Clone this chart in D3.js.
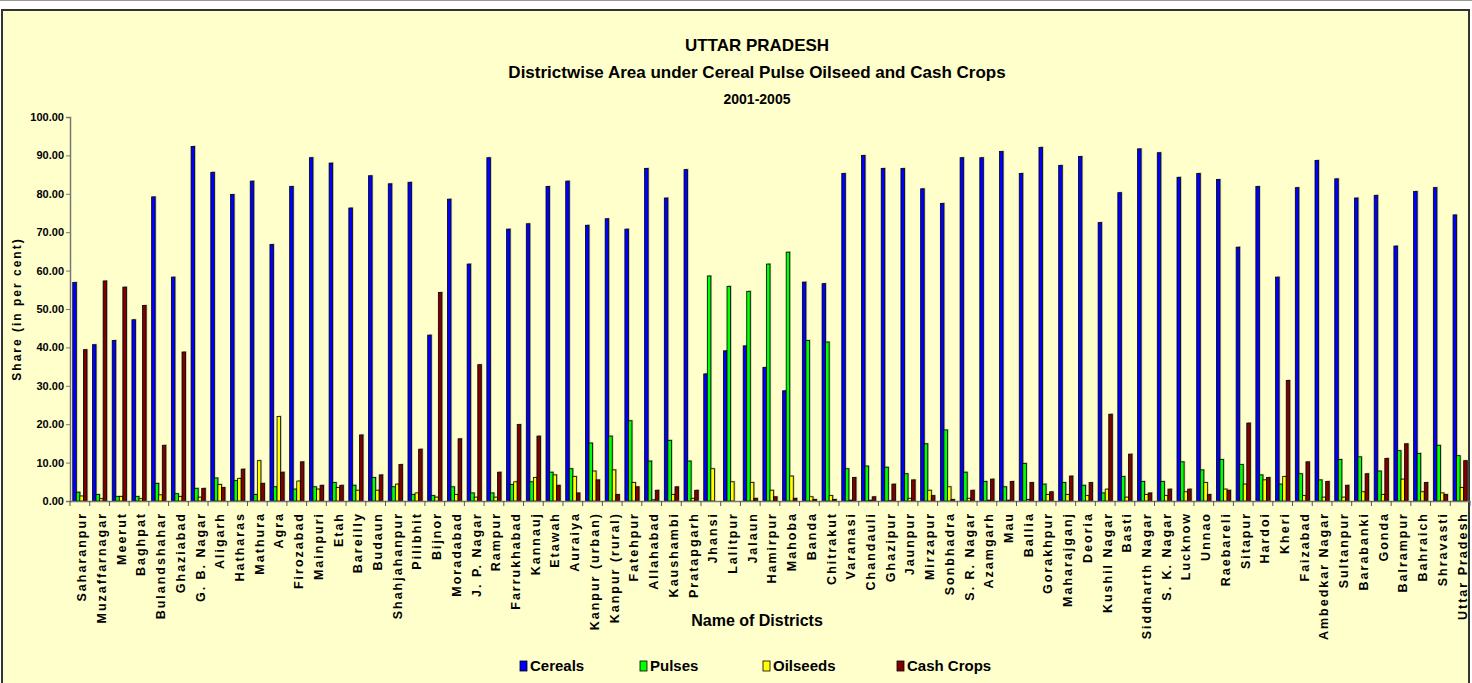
<!DOCTYPE html>
<html lang="en">
<head>
<meta charset="utf-8">
<title>Uttar Pradesh - Districtwise Area under Crops</title>
<script src="https://cdnjs.cloudflare.com/ajax/libs/d3/7.8.5/d3.min.js"></script>
<style>
  body { margin: 0; background: #fff; }
  svg text { font-family: "Liberation Sans", Arial, sans-serif; font-weight: bold; fill: #000; }
</style>
</head>
<body>
<div id="plot"></div>
<script>
// categories
var districts = ["Saharanpur","Muzaffarnagar","Meerut","Baghpat","Bulandshahar","Ghaziabad","G. B. Nagar","Aligarh","Hatharas","Mathura",
  "Agra","Firozabad","Mainpuri","Etah","Bareilly","Budaun","Shahjahanpur","Pilibhit","Bijnor","Moradabad",
  "J. P. Nagar","Rampur","Farrukhabad","Kannauj","Etawah","Auraiya","Kanpur (urban)","Kanpur (rural)","Fatehpur","Allahabad",
  "Kaushambi","Pratapgarh","Jhansi","Lalitpur","Jalaun","Hamirpur","Mahoba","Banda","Chitrakut","Varanasi",
  "Chandauli","Ghazipur","Jaunpur","Mirzapur","Sonbhadra","S. R. Nagar","Azamgarh","Mau","Ballia","Gorakhpur",
  "Maharajganj","Deoria","Kushil Nagar","Basti","Siddharth Nagar","S. K. Nagar","Lucknow","Unnao","Raebareli","Sitapur",
  "Hardoi","Kheri","Faizabad","Ambedkar Nagar","Sultanpur","Barabanki","Gonda","Balrampur","Bahraich","Shravasti","Uttar Pradesh"];

// series values (per cent)
var cereals = [56.9,40.7,41.8,47.2,79.2,58.3,92.3,85.6,79.8,83.3,
  66.8,81.9,89.4,88.0,76.3,84.7,82.6,83.0,43.2,78.6,
  61.7,89.4,70.8,72.2,81.9,83.3,71.8,73.5,70.8,86.6,
  78.9,86.3,33.1,39.1,40.4,34.8,28.7,57.0,56.6,85.3,
  90.0,86.6,86.6,81.3,77.5,89.4,89.4,91.0,85.3,92.1,
  87.4,89.7,72.5,80.3,91.7,90.7,84.3,85.3,83.7,66.1,
  81.9,58.3,81.6,88.7,83.9,78.9,79.6,66.4,80.6,81.6,74.5];
var pulses = [2.3,1.7,1.2,1.2,4.6,1.9,3.3,6.0,5.3,1.7,
  3.7,3.1,3.7,4.8,4.1,6.1,3.7,1.7,1.4,3.7,
  2.1,2.1,4.3,5.0,7.5,8.4,15.1,16.9,20.9,10.4,
  15.8,10.4,58.6,55.9,54.6,61.7,64.8,41.8,41.4,8.4,
  9.1,8.8,7.1,14.9,18.5,7.5,5.1,3.7,9.8,4.4,
  4.8,4.1,2.1,6.4,5.1,5.1,10.2,8.1,10.8,9.5,
  6.8,4.4,7.1,5.5,10.8,11.5,7.8,13.1,12.4,14.5,11.8];
var oilseeds = [1.3,0.6,1.2,0.6,1.6,1.2,1.0,4.3,5.9,10.5,
  22.0,5.2,3.1,3.5,2.8,2.8,4.4,2.1,1.0,1.7,
  1.0,1.0,5.0,6.1,6.8,6.4,7.8,8.1,4.8,0.3,
  1.7,0.7,8.4,5.0,4.8,2.8,6.5,1.1,1.4,0.2,
  0.2,0.1,0.7,2.8,3.7,0.7,0.2,0.2,0.4,1.7,
  1.7,1.4,3.1,1.0,1.7,1.4,2.4,4.8,3.1,4.4,
  5.5,6.4,1.4,1.0,1.0,2.4,1.7,5.7,2.4,2.1,3.5];
var cashCrops = [39.4,57.3,55.7,50.9,14.5,38.8,3.3,3.5,8.3,4.6,
  7.5,10.2,4.1,4.1,17.2,6.8,9.5,13.5,54.3,16.2,
  35.5,7.5,19.9,16.9,4.1,2.1,5.5,1.7,3.7,2.8,
  3.7,2.8,0.0,0.0,0.7,1.1,0.7,0.4,0.4,6.1,
  1.1,4.4,5.5,1.4,0.4,2.8,5.7,5.1,4.8,2.4,
  6.5,4.8,22.6,12.2,2.1,3.1,3.1,1.7,2.8,20.3,
  6.1,31.4,10.2,5.1,4.1,7.1,11.1,14.9,4.8,1.7,10.5];

var seriesNames = ["Cereals","Pulses","Oilseeds","Cash Crops"];
var seriesColors = ["#0000FF","#00FF00","#FFFF00","#800000"];
var yTicks = [0,10,20,30,40,50,60,70,80,90,100];

var width = 1472, height = 683;
var plotLeft = 70, plotRight = 1470, plotTop = 117, plotBottom = 501;
var narrow = "'Liberation Sans Narrow', 'Arial Narrow', 'Liberation Sans', sans-serif";

var svg = d3.select("#plot").append("svg")
    .attr("width", width)
    .attr("height", height);

// outer frame
svg.append("line").attr("x1",0).attr("x2",width).attr("y1",0.5).attr("y2",0.5)
    .attr("stroke","#999").attr("stroke-width",1);
svg.append("rect")
    .attr("x", 2).attr("y", 10).attr("width", 1467).attr("height", 680)
    .attr("fill", "#FFFFCC")
    .attr("stroke", "#333").attr("stroke-width", 2);

// titles
svg.append("text").attr("x", 757).attr("y", 51).attr("text-anchor","middle")
    .style("font-size","17px").text("UTTAR PRADESH");
svg.append("text").attr("x", 757).attr("y", 78).attr("text-anchor","middle")
    .style("font-size","17px").text("Districtwise Area under Cereal Pulse Oilseed and Cash Crops");
svg.append("text").attr("x", 757).attr("y", 104).attr("text-anchor","middle")
    .style("font-size","14px").text("2001-2005");

// scales
var x0 = d3.scaleBand()
    .domain(districts)
    .range([plotLeft, plotRight])
    .paddingInner(0.28)
    .paddingOuter(0.14);
var x1 = d3.scaleBand()
    .domain(seriesNames)
    .range([0, x0.bandwidth()]);
var yScale = d3.scaleLinear().domain([0, 100]).range([plotBottom, plotTop]);

// table for the bars
var table = districts.map(function(d, i){
    return {name: d, values: [cereals[i], pulses[i], oilseeds[i], cashCrops[i]]};
});

var groups = svg.selectAll("g.district")
    .data(table)
    .enter().append("g")
    .attr("class","district")
    .attr("transform", function(d){ return "translate(" + x0(d.name) + ",0)"; });

// shadows
groups.selectAll("rect.shadow")
    .data(function(d){ return d.values.map(function(v, k){ return {s: seriesNames[k], v: v}; }); })
    .enter().append("rect")
    .attr("class","shadow")
    .attr("x", function(d){ return x1(d.s) + 1.2; })
    .attr("y", function(d){ return yScale(d.v) - 1; })
    .attr("width", x1.bandwidth())
    .attr("height", function(d){ return d.v > 0 ? plotBottom - yScale(d.v) + 1 : 0; })
    .attr("fill", "#8a8a70").attr("opacity", 0.55);

groups.selectAll("rect.bar")
    .data(function(d){ return d.values.map(function(v, k){ return {s: seriesNames[k], v: v, c: seriesColors[k]}; }); })
    .enter().append("rect")
    .attr("class","bar")
    .attr("x", function(d){ return x1(d.s); })
    .attr("y", function(d){ return yScale(d.v); })
    .attr("width", x1.bandwidth())
    .attr("height", function(d){ return plotBottom - yScale(d.v); })
    .attr("fill", function(d){ return d.c; })
    .attr("stroke", "#000").attr("stroke-width", 0.8);

// y axis
var yAxis = d3.axisLeft(yScale)
    .tickValues(yTicks)
    .tickSize(4)
    .tickFormat(d3.format(".2f"));
var gy = svg.append("g")
    .attr("transform", "translate(" + plotLeft + ",0)")
    .call(yAxis);
gy.select(".domain").attr("stroke", "#777").attr("stroke-width", 1.5);
gy.selectAll(".tick line").attr("stroke", "#777");
gy.selectAll(".tick text")
    .attr("x", -6)
    .style("font-family", narrow)
    .style("font-size", "11px").style("font-weight","bold");

svg.append("text")
    .attr("transform", "translate(21," + ((plotTop + plotBottom) / 2) + ") rotate(-90)")
    .attr("text-anchor", "middle")
    .style("font-size", "12px")
    .style("letter-spacing", "2px")
    .text("Share (in per cent)");

// x axis - ticks between categories
var xAxis = d3.axisBottom(x0).tickSize(0).tickFormat("");
var gx = svg.append("g")
    .attr("transform", "translate(0," + plotBottom + ")")
    .call(xAxis);
gx.select(".domain").attr("stroke", "#777").attr("stroke-width", 1.5);
gx.selectAll(".tick").remove();
gx.selectAll("line.sep")
    .data(districts.concat(["end"]))
    .enter().append("line")
    .attr("class","sep")
    .attr("x1", function(d, i){ return plotLeft + i * x0.step(); })
    .attr("x2", function(d, i){ return plotLeft + i * x0.step(); })
    .attr("y1", 0).attr("y2", 5)
    .attr("stroke", "#555");

svg.append("g").selectAll("text")
    .data(districts)
    .enter().append("text")
    .attr("transform", function(d){
        return "translate(" + (x0(d) + x0.bandwidth() / 2 + 2) + ",512) rotate(-90)";
    })
    .attr("text-anchor", "end")
    .attr("dy", "0.35em")
    .style("font-family", narrow)
    .style("font-size", "12.5px")
    .style("letter-spacing", "2px")
    .text(function(d){ return d; });

svg.append("text")
    .attr("x", 757).attr("y", 626)
    .attr("text-anchor", "middle")
    .style("font-family", narrow)
    .style("font-size", "16px")
    .text("Name of  Districts");

// legend
var legendX = [520, 640, 763, 897];
var legend = svg.selectAll("g.legend")
    .data(seriesNames)
    .enter().append("g")
    .attr("class","legend")
    .attr("transform", function(d, i){ return "translate(" + legendX[i] + ",661)"; });
legend.append("rect")
    .attr("width", 7).attr("height", 10)
    .attr("fill", function(d, i){ return seriesColors[i]; })
    .attr("stroke", "#000").attr("stroke-width", 0.8);
legend.append("text")
    .attr("x", 10).attr("y", 10)
    .style("font-family", narrow)
    .style("font-size", "15px")
    .text(function(d){ return d; });
</script>
</body>
</html>
